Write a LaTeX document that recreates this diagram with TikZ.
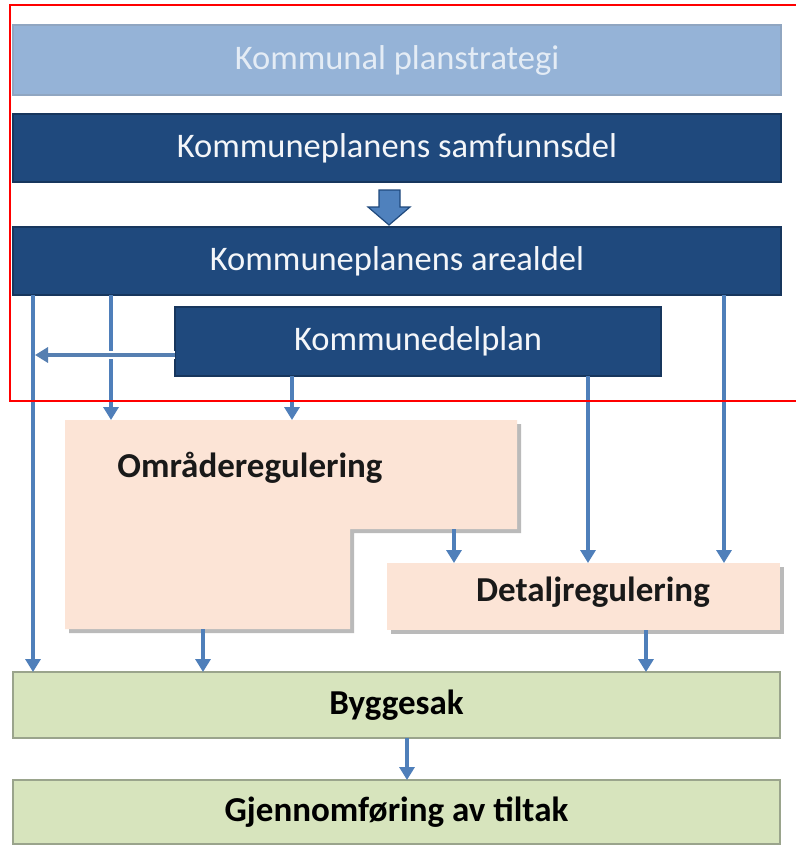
\documentclass[tikz,border=0pt]{standalone}
\usepackage{fontspec}
\setmainfont{Carlito}
\usetikzlibrary{arrows.meta,shadows}
\definecolor{lightblue}{HTML}{95B3D7}
\definecolor{lighttext}{HTML}{E4ECF5}
\definecolor{darkblue}{HTML}{1F497D}
\definecolor{darkedge}{HTML}{17365D}
\definecolor{peach}{HTML}{FCE4D6}
\definecolor{green}{HTML}{D7E4BD}
\definecolor{greenedge}{HTML}{9AA48C}
\definecolor{arrowblue}{HTML}{4F7FBA}
\definecolor{blockfill}{HTML}{4F81BD}
\definecolor{framered}{HTML}{FF0000}
\begin{document}
\begin{tikzpicture}[x=1pt,y=-1pt,
  every node/.style={inner sep=0pt,outer sep=0pt},
  band/.style={minimum width=768pt,minimum height=68pt,font=\fontsize{34.5}{40}\selectfont},
  stratbox/.style={band,fill=lightblue,draw=lightblue!75!gray,line width=1.2pt,text=lighttext},
  darkbox/.style={band,fill=darkblue,draw=darkedge,line width=1.2pt,text=white!95!darkblue},
  peachshadow/.style={drop shadow={shadow xshift=4pt,shadow yshift=-4pt,opacity=0.45,fill=gray!80!black}},
  greenbox/.style={minimum width=767pt,fill=green,draw=greenedge,line width=1.3pt,font=\bfseries\fontsize{35}{40}\selectfont},
  boldtext/.style={font=\bfseries\fontsize{35}{40}\selectfont,text=black!90},
  arr/.style={draw=arrowblue,line width=3.2pt,-{Triangle[width=15pt,length=13pt]}},
]
\useasboundingbox (0,0) rectangle (795,845);
\fill[white] (0,0) rectangle (795,845);

% top bands
\node[stratbox,minimum height=70pt] (strat) at (397,60) {Kommunal planstrategi};
\node[darkbox] (samf) at (397,148) {Kommuneplanens samfunnsdel};
\node[darkbox] (areal) at (397,261) {Kommuneplanens arealdel};
\node[darkbox,minimum width=486pt,minimum height=69pt] (kdp) at (418,341.5) {Kommunedelplan};

% block arrow samfunnsdel -> arealdel
\filldraw[fill=blockfill,draw=darkblue,line width=1.2pt,line join=miter]
  (379,190) -- (400,190) -- (400,207) -- (410,207) -- (389,225) -- (368,207) -- (379,207) -- cycle;

% Omraderegulering L-shape
\coordinate (o1) at (65,420);
\coordinate (o2) at (517,420);
\coordinate (o3) at (517,529);
\coordinate (o4) at (350,529);
\coordinate (o5) at (350,629);
\coordinate (o6) at (65,629);
\fill[peach,peachshadow] (o1) -- (o2) -- (o3) -- (o4) -- (o5) -- (o6) -- cycle;
\node[boldtext] (omr) at (250,468) {Områderegulering};

% Detaljregulering
\node[minimum width=393pt,minimum height=67pt,fill=peach,peachshadow] (detalj) at (583.5,596.5) {};
\node[boldtext] (detaljtxt) at (593,592) {Detaljregulering};

% green boxes
\node[greenbox,minimum height=66pt] (bygg) at (396.5,705) {Byggesak};
\node[greenbox,minimum height=64pt] (gjen) at (396.5,812) {Gjennomføring av tiltak};

% connector columns
\coordinate (xa) at (33,0);
\coordinate (xb) at (111,0);
\coordinate (xc) at (292,0);
\coordinate (xd) at (588,0);
\coordinate (xe) at (724,0);
\coordinate (xf) at (454,0);
\coordinate (xg) at (203,0);
\coordinate (xh) at (646,0);
\coordinate (xi) at (407,0);
\coordinate (hy) at (0,355);

\draw[arr] (xa |- areal.south) -- (xa |- bygg.north);
\draw[arr] (xb |- areal.south) -- (xb |- o1);
\draw[draw=white,line width=8pt] (kdp.west |- hy) -- ([xshift=3pt]xa |- hy);
\draw[arr,draw=arrowblue!85!gray] (kdp.west |- hy) -- ([xshift=2pt]xa |- hy);
\draw[arr] (xc |- kdp.south) -- (xc |- o1);
\draw[arr] (xd |- kdp.south) -- (xd |- detalj.north);
\draw[arr] (xe |- areal.south) -- (xe |- detalj.north);
\draw[arr] (xf |- o3) -- (xf |- detalj.north);
\draw[arr] (xg |- o6) -- (xg |- bygg.north);
\draw[arr] (xh |- detalj.south) -- (xh |- bygg.north);
\draw[arr] (xi |- bygg.south) -- (xi |- gjen.north);

% red frame
\draw[framered,line width=2.8pt] (10,5) rectangle (800,401);
\end{tikzpicture}
\end{document}
